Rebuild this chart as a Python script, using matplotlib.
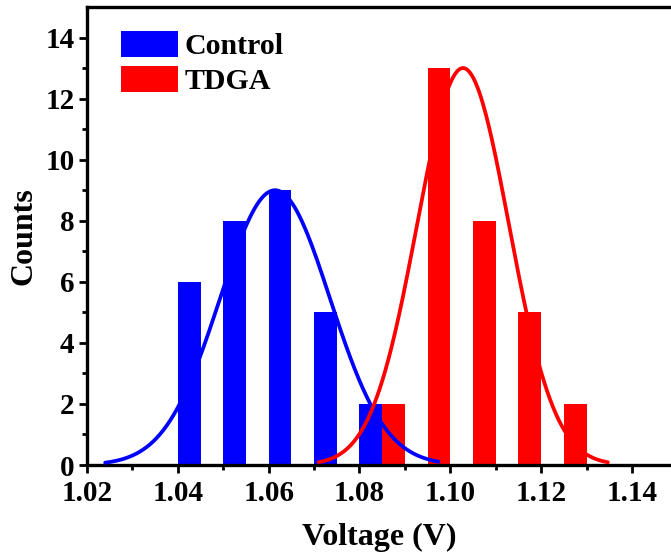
import numpy as np
import matplotlib
matplotlib.use("Agg")
import matplotlib.pyplot as plt

# ---- data ----
control_left = [1.040, 1.050, 1.060, 1.070, 1.080]
control_counts = [6, 8, 9, 5, 2]
tdga_left = [1.085, 1.095, 1.105, 1.115, 1.125]
tdga_counts = [2, 13, 8, 5, 2]
bar_width = 0.005

# Gaussian fit parameters (amplitude, centre, sigma, x-range)
control_fit = dict(amp=9.0, mu=1.0614, sigma=0.0121, x0=1.0240, x1=1.0974)
tdga_fit = dict(amp=13.0, mu=1.1028, sigma=0.0101, x0=1.0710, x1=1.1347)

x_ticks = [1.02, 1.04, 1.06, 1.08, 1.10, 1.12, 1.14]
y_ticks = [0, 2, 4, 6, 8, 10, 12, 14]

plt.rcParams['font.family'] = ['Liberation Serif', 'DejaVu Serif']
plt.rcParams['font.weight'] = 'bold'

fig = plt.figure(figsize=(6.71, 5.54), dpi=100)
ax = fig.add_axes([87/671, (554-465)/554, 1 - 87/671, (465-7)/554])

blue = '#0000ff'
red = '#ff0000'

ax.bar(control_left, control_counts, width=bar_width, align='edge', color=blue,
       label='Control', zorder=2)
ax.bar(tdga_left, tdga_counts, width=bar_width, align='edge', color=red,
       label='TDGA', zorder=2)

def gauss(p):
    x = np.linspace(p['x0'], p['x1'], 300)
    return x, p['amp'] * np.exp(-(x - p['mu'])**2 / (2 * p['sigma']**2))

xb, yb = gauss(control_fit)
xr, yr = gauss(tdga_fit)
ax.plot(xb, yb, color=blue, lw=2.7, zorder=3, solid_capstyle='round')
ax.plot(xr, yr, color=red, lw=2.7, zorder=3, solid_capstyle='round')

ax.set_xlim(1.02, 1.1486)
ax.set_ylim(0, 15)
ax.set_xticks(x_ticks)
ax.set_xticklabels([f'{v:.2f}' for v in x_ticks])
ax.set_yticks(y_ticks)
ax.set_xticks(np.arange(1.03, 1.15, 0.02), minor=True)
ax.set_yticks(np.arange(1, 15, 2), minor=True)

for s in ['left', 'bottom', 'top']:
    ax.spines[s].set_linewidth(2.4)
ax.spines['right'].set_visible(False)

ax.tick_params(axis='both', which='major', direction='out', length=6, width=2,
               labelsize=21)
ax.tick_params(axis='x', which='major', pad=5)
ax.tick_params(axis='y', which='major', pad=3)
ax.tick_params(axis='both', which='minor', direction='out', length=3.5, width=2)
for lab in ax.get_xticklabels() + ax.get_yticklabels():
    lab.set_fontweight('bold')

ax.set_xlabel('Voltage (V)', fontsize=23, fontweight='bold', labelpad=11)
ax.set_ylabel('Counts', fontsize=23, fontweight='bold', labelpad=5)

leg = ax.legend(loc='upper left', bbox_to_anchor=(115/671, 1 - 25/554),
                bbox_transform=fig.transFigure, frameon=False,
                prop={'size': 21.5, 'weight': 'bold'},
                handlelength=1.9, handleheight=0.95, handletextpad=0.22,
                labelspacing=0.2, borderpad=0.2, borderaxespad=0)

fig.savefig('out.png', dpi=100)
